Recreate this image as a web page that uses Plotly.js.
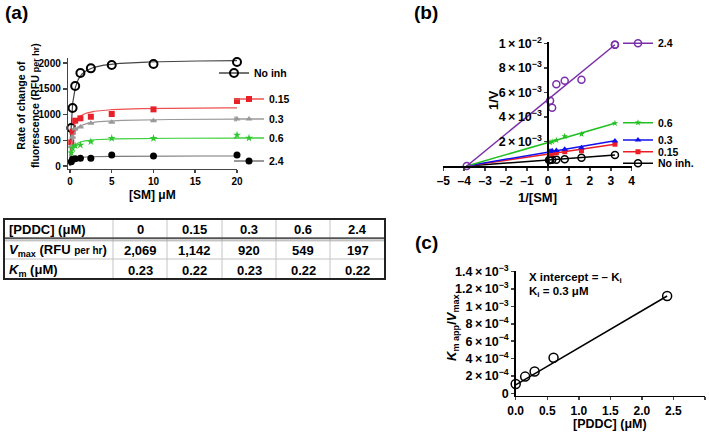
<!DOCTYPE html>
<html><head><meta charset="utf-8">
<script src="https://cdn.plot.ly/plotly-3.0.1.min.js"></script>
<style>html,body{margin:0;padding:0;background:#fff}#chart{width:709px;height:432px}</style>
</head><body><div id="chart"></div>
<script>
// ---------- Panel (a): Michaelis–Menten data ----------
const smConc = [0.156, 0.3125, 0.625, 1.25, 2.5, 5, 10, 20];
const rateNoInh = [738, 1126, 1553, 1806, 1896, 1961, 1980, 2020];
const rate015 = [460, 666, 880, 926, 957, 1010, 1100, 1262];
const rate03 = [380, 560, 720, 757, 829, 848, 880, 913];
const rate06 = [258, 343, 394, 408, 472, 538, 538, 602];
const rate24 = [83, 130, 142, 150, 150, 214, 194, 214];
const err03 = [0, 0, 0, 0, 0, 0, 0, 35];
const seriesNamesA = ['No inh', '0.15', '0.3', '0.6', '2.4'];

// ---------- Table ----------
const tableHeader = '[PDDC] (μM)';
const pddcLabels = ['0', '0.15', '0.3', '0.6', '2.4'];
const vmaxValues = [2069, 1142, 920, 549, 197];
const vmaxLabels = ['2,069', '1,142', '920', '549', '197'];
const kmValues = [0.23, 0.22, 0.23, 0.22, 0.22];
const rowLabels = ['<i>V</i><sub>max</sub> (RFU <span style="font-size:10px">per hr</span>)', '<i>K</i><sub>m</sub> (μM)'];

// ---------- Panel (b): Lineweaver–Burk ----------
const invSMNo = [0.05, 0.1, 0.2, 0.4, 0.8, 1.6, 3.2];
const invVNo = [0.00049, 0.0005, 0.00051, 0.00052, 0.00055, 0.00068, 0.0009];
const invSM = [0.1, 0.2, 0.4, 0.8, 1.6, 3.2];
const invV015 = [0.00098, 0.00104, 0.00109, 0.00117, 0.00125, 0.00178];
const invV03 = [0.0012, 0.00125, 0.00127, 0.00136, 0.0015, 0.00205];
const invV06 = [0.00192, 0.00198, 0.0021, 0.00242, 0.0026, 0.00349];
const invV24 = [0.00533, 0.00476, 0.00667, 0.00696, 0.00704, 0.0099];
const lbFitX = [-3.88, 3.2];
const lbFitNo = [0, 0.0009];
const lbFit015 = [0, 0.00178];
const lbFit03 = [0, 0.00207];
const lbFit06 = [0, 0.00349];
const lbFit24 = [0, 0.0099];
const seriesNamesB = ['2.4', '0.6', '0.3', '0.15', 'No inh.'];
const lbXTicks = [-5, -4, -3, -2, -1, 0, 1, 2, 3, 4];
const lbXTickText = ['–5', '–4', '–3', '–2', '–1', '0', '1', '2', '3', '4'];
const lbYTicks = [0.002, 0.004, 0.006, 0.008, 0.01];
const lbYTickText = ['2\u2009×\u200910<sup>−3</sup>', '4\u2009×\u200910<sup>−3</sup>', '6\u2009×\u200910<sup>−3</sup>', '8\u2009×\u200910<sup>−3</sup>', '1\u2009×\u200910<sup>−2</sup>'];

// ---------- Panel (c): replot ----------
const pddcConc = [0, 0.15, 0.3, 0.6, 2.4];
const kmAppOverVmax = [0.000107, 0.000192, 0.00025, 0.00041, 0.00112];
const replotFitX = [0, 2.4];
const replotFitY = [0.000098, 0.00112];
const cXTicks = [0, 0.5, 1, 1.5, 2, 2.5, 3];
const cXTickText = ['0.0', '0.5', '1.0', '1.5', '2.0', '2.5', '3.0'];
const cYTicks = [0, 0.0002, 0.0004, 0.0006, 0.0008, 0.001, 0.0012, 0.0014];
const cYTickText = ['0', '2\u2009×\u200910<sup>−4</sup>', '4\u2009×\u200910<sup>−4</sup>', '6\u2009×\u200910<sup>−4</sup>', '8\u2009×\u200910<sup>−4</sup>', '1\u2009×\u200910<sup>−3</sup>', '1.2\u2009×\u200910<sup>−3</sup>', '1.4\u2009×\u200910<sup>−3</sup>'];

// ---------- helpers ----------
const W = 709, H = 432;
const fx = p => p / W;
const fy = p => 1 - p / H;
const FAM = 'Liberation Sans, Arial, Helvetica, sans-serif';
const font = (size, color) => ({family: FAM, size: size, color: color || '#000', weight: 'bold'});

// Michaelis–Menten fit curves from table Vmax / Km
const fitGrid = [];
for (let i = 0; i <= 200; i++) fitGrid.push(20 * Math.pow(i / 200, 2));
const mm = (vmax, km) => fitGrid.map(s => vmax * s / (km + s));

const traces = [];

// ---- panel (a) ----
const aStyles = [
  {color: '#000', line: '#444', symbol: 'circle-open', size: 8, lw: 2},
  {color: '#e8202a', line: '#ec5050', symbol: 'square', size: 6, lw: 0},
  {color: '#999', line: '#9a9a9a', symbol: 'triangle-up', size: 6, lw: 0},
  {color: '#2ec72e', line: '#3ccf3c', symbol: 'star', size: 6, lw: 0},
  {color: '#000', line: '#777', symbol: 'circle', size: 7, lw: 0}
];
const aData = [rateNoInh, rate015, rate03, rate06, rate24];
const aLegendPos = [[214, 73], [229, 99], [229, 119], [229, 138], [229, 161]];
aData.forEach((ys, i) => {
  const st = aStyles[i];
  traces.push({type: 'scatter', mode: 'lines', x: fitGrid, y: mm(vmaxValues[i], kmValues[i]),
    xaxis: 'x', yaxis: 'y', line: {color: st.line, width: 1.2}, showlegend: false, hoverinfo: 'skip'});
  const tr = {type: 'scatter', mode: 'markers', x: smConc, y: ys, xaxis: 'x', yaxis: 'y', cliponaxis: false,
    marker: {symbol: st.symbol, size: st.size, color: st.color, line: {color: st.color, width: st.lw}},
    showlegend: false};
  if (i === 2) tr.error_y = {type: 'data', array: err03, color: '#999', thickness: 1, width: 3};
  traces.push(tr);
  const lid = i === 0 ? 'legend' : 'legend' + (i + 1);
  traces.push({type: 'scatter', mode: 'lines+markers', x: [null], y: [null], xaxis: 'x', yaxis: 'y',
    name: seriesNamesA[i], legend: lid, line: {color: st.line, width: 1.5},
    marker: {symbol: st.symbol, size: st.size, color: st.color, line: {color: st.color, width: st.lw}}});
});

// ---- panel (b) ----
const bSeries = [
  {x: invSM, y: invV24, fit: lbFit24, color: '#7b2fa8', symbol: 'circle-open', size: 7, lw: 1.5},
  {x: invSM, y: invV06, fit: lbFit06, color: '#22c022', symbol: 'star', size: 5, lw: 0},
  {x: invSM, y: invV03, fit: lbFit03, color: '#1010ee', symbol: 'triangle-up', size: 6, lw: 0},
  {x: invSM, y: invV015, fit: lbFit015, color: '#ee1c24', symbol: 'square', size: 5, lw: 0},
  {x: invSMNo, y: invVNo, fit: lbFitNo, color: '#000', symbol: 'circle-open', size: 7, lw: 1.5}
];
const bLegendPos = [[618, 43.3], [618, 122.7], [618, 140], [618, 151.7], [618, 163.3]];
[4, 3, 2, 1, 0].forEach(i => {
  const s = bSeries[i];
  traces.push({type: 'scatter', mode: i === 0 ? 'lines+markers' : 'lines', x: lbFitX, y: s.fit, xaxis: 'x2', yaxis: 'y2',
    cliponaxis: false, line: {color: s.color, width: 1.5}, showlegend: false, hoverinfo: 'skip',
    marker: {symbol: s.symbol, size: s.size, color: s.color, line: {color: s.color, width: s.lw}}});
  traces.push({type: 'scatter', mode: 'markers', x: s.x, y: s.y, xaxis: 'x2', yaxis: 'y2', cliponaxis: false,
    marker: {symbol: s.symbol, size: s.size, color: s.color, line: {color: s.color, width: s.lw}}, showlegend: false});
  traces.push({type: 'scatter', mode: 'lines+markers', x: [null], y: [null], xaxis: 'x2', yaxis: 'y2',
    name: seriesNamesB[i], legend: 'legend' + (6 + i), line: {color: s.color, width: 1.5},
    marker: {symbol: s.symbol, size: s.size, color: s.color, line: {color: s.color, width: s.lw}}});
});

// ---- panel (c) ----
traces.push({type: 'scatter', mode: 'lines', x: replotFitX, y: replotFitY, xaxis: 'x3', yaxis: 'y3',
  line: {color: '#000', width: 1.5}, showlegend: false, hoverinfo: 'skip'});
traces.push({type: 'scatter', mode: 'markers', x: pddcConc, y: kmAppOverVmax, xaxis: 'x3', yaxis: 'y3', cliponaxis: false,
  marker: {symbol: 'circle-open', size: 9, color: '#000', line: {color: '#000', width: 1.5}}, showlegend: false});

// ---- layout ----
const tickFontA = font(10);
const layout = {
  width: W, height: H, margin: {l: 0, r: 0, t: 0, b: 0},
  paper_bgcolor: '#fff', plot_bgcolor: 'rgba(0,0,0,0)',
  showlegend: true, hovermode: false,
  xaxis: {domain: [fx(68.3), fx(237)], range: [-0.2, 20], tickvals: [0, 5, 10, 15, 20], ticks: 'outside', ticklen: 3,
    tickwidth: 1.5, tickcolor: '#444', showline: true, linecolor: '#444', linewidth: 1.5, showgrid: false, zeroline: false,
    tickfont: tickFontA, anchor: 'y'},
  yaxis: {domain: [fy(168.6), fy(57.85)], range: [-50, 2100], tickvals: [0, 500, 1000, 1500, 2000], ticks: 'outside',
    ticklen: 4, tickwidth: 1.5, tickcolor: '#444', showline: true, linecolor: '#444', linewidth: 1.5, showgrid: false,
    zeroline: false, tickfont: tickFontA, anchor: 'x'},
  xaxis2: {domain: [fx(443.3), fx(631.7)], range: [-5, 4], tickvals: lbXTicks, ticktext: lbXTickText, ticks: 'outside',
    ticklen: 3, tickwidth: 1.5, showline: true, linecolor: '#000', linewidth: 1.5, showgrid: false, zeroline: false,
    tickfont: font(12), anchor: 'y2'},
  yaxis2: {domain: [fy(166), fy(41.7)], range: [0, 0.01015], tickvals: lbYTicks, ticktext: lbYTickText, ticks: 'outside',
    ticklen: 3, tickwidth: 1.5, showline: true, linecolor: '#000', linewidth: 1.5, showgrid: false, zeroline: false,
    tickfont: font(12.5), anchor: 'free', position: fx(547.3)},
  xaxis3: {domain: [fx(515.7), fx(705)], range: [0, 3], tickvals: cXTicks, ticktext: cXTickText, ticks: 'outside',
    ticklen: 3, tickwidth: 1.5, showline: true, linecolor: '#000', linewidth: 1.5, showgrid: false, zeroline: false,
    tickfont: font(12), anchor: 'y3'},
  yaxis3: {domain: [fy(395.9), fy(270.8)], range: [-0.00003, 0.00141], tickvals: cYTicks, ticktext: cYTickText,
    ticks: 'outside', ticklen: 3, tickwidth: 1.5, showline: true, linecolor: '#000', linewidth: 1.5, showgrid: false,
    zeroline: false, tickfont: font(12.5), anchor: 'x3'},
  annotations: [],
  shapes: []
};

function legendAt(px, py) {
  return {x: fx(px), y: fy(py), xanchor: 'left', yanchor: 'middle', xref: 'paper', yref: 'paper',
    bgcolor: 'rgba(0,0,0,0)', borderwidth: 0, font: font(10.5), itemwidth: 30, tracegroupgap: 0,
    itemclick: false, itemdoubleclick: false};
}
aLegendPos.forEach((p, i) => { layout[i === 0 ? 'legend' : 'legend' + (i + 1)] = legendAt(p[0], p[1]); });
bLegendPos.forEach((p, i) => { layout['legend' + (6 + i)] = legendAt(p[0], p[1]); });

function ann(text, px, py, size, opts) {
  return Object.assign({text: text, x: fx(px), y: fy(py), xref: 'paper', yref: 'paper', showarrow: false,
    xanchor: 'center', yanchor: 'middle', font: font(size)}, opts || {});
}
layout.annotations.push(
  ann('(a)', 3, 13, 19, {xanchor: 'left'}),
  ann('(b)', 412, 13, 19, {xanchor: 'left'}),
  ann('(c)', 413, 242, 19, {xanchor: 'left'}),
  ann('Rate of change of<br>fluorescence (RFU <span style="font-size:9px">per hr</span>)', 28, 106, 10.5, {textangle: -90}),
  ann('[SM] μM', 152, 195, 12),
  ann('1/V', 493, 100, 13, {textangle: -90}),
  ann('1/[SM]', 537, 198, 13),
  ann('<i>K</i><sub>m app</sub>/<i>V</i><sub>max</sub>', 452, 328, 13, {textangle: -90}),
  ann('[PDDC] (μM)', 610, 424, 12.5),
  ann('X intercept = – K<sub>i</sub>', 526.7, 278, 11.5, {xanchor: 'left'}),
  ann('K<sub>i</sub> = 0.3 μM', 526.7, 292, 11.5, {xanchor: 'left'})
);

// ---- table drawn with shapes + annotations ----
const colEdges = [4, 113, 167, 222, 276, 330, 385];
const tTop = 219, tHead = 238.3, tRow = 259, tBot = 279;
const rowCenters = [229, 250, 270];
const sh = (x0, y0, x1, y1, color, width) => ({type: 'line', xref: 'paper', yref: 'paper',
  x0: fx(x0), x1: fx(x1), y0: fy(y0), y1: fy(y1), line: {color: color, width: width}});
for (let c = 1; c < colEdges.length - 1; c++) layout.shapes.push(sh(colEdges[c], tTop, colEdges[c], tBot, '#c4c4c4', 1));
layout.shapes.push(sh(4, tRow, 385, tRow, '#c4c4c4', 1));
layout.shapes.push(sh(4, tHead, 385, tHead, '#555', 2));
layout.shapes.push(sh(4, tHead + 2.5, 385, tHead + 2.5, '#aaa', 1));
layout.shapes.push({type: 'rect', xref: 'paper', yref: 'paper', x0: fx(4), x1: fx(385), y0: fy(tBot), y1: fy(tTop),
  line: {color: '#222', width: 2}});
const tableRows = [[tableHeader].concat(pddcLabels),
  [rowLabels[0]].concat(vmaxLabels),
  [rowLabels[1]].concat(kmValues.map(v => v.toFixed(2)))];
tableRows.forEach((row, r) => {
  row.forEach((txt, c) => {
    if (c === 0) layout.annotations.push(ann(txt, colEdges[0] + 2.5, rowCenters[r], 13, {xanchor: 'left'}));
    else layout.annotations.push(ann(txt, (colEdges[c] + colEdges[c + 1]) / 2, rowCenters[r], 13));
  });
});

Plotly.newPlot('chart', traces, layout, {displayModeBar: false, staticPlot: true});
</script>
</body></html>
